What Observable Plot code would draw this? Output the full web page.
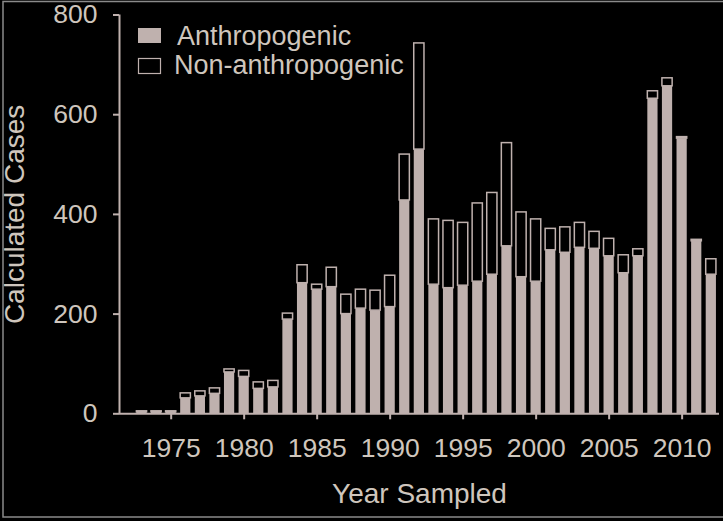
<!DOCTYPE html>
<html>
<head>
<meta charset="utf-8">
<script src="https://cdn.jsdelivr.net/npm/d3@7"></script>
<script src="https://cdn.jsdelivr.net/npm/@observablehq/plot@0.6"></script>
<style>
  html, body { margin: 0; padding: 0; background: #000; }
  #chart { width: 723px; height: 521px; overflow: hidden; }
</style>
</head>
<body>
<div id="chart"></div>
<script>
const years = d3.range(1973, 2013);
const anthro = [3, 3, 3, 31, 35, 40, 83, 74, 50, 53, 189, 262, 249, 254, 200, 211, 207, 214, 428, 530,
  259, 252, 257, 265, 279, 336, 274, 265, 328, 323, 333, 331, 316, 282, 316, 632, 657, 552, 346, 279];
const nonAnthro = [2, 2, 2, 10, 10, 11, 6, 12, 13, 13, 12, 36, 10, 39, 39, 38, 40, 63, 92, 213,
  131, 135, 126, 157, 164, 207, 130, 125, 43, 51, 50, 34, 35, 36, 14, 15, 16, 3, 3, 31];
const xTicks = [1975, 1980, 1985, 1990, 1995, 2000, 2005, 2010];
const yTicks = [0, 200, 400, 600, 800];
const xDomain = [1971.46, 2012.56];
const seriesNames = ["Anthropogenic", "Non-anthropogenic"];

const barColor = "#bfb1ae";
const textColor = "#cfc6bd";
const font = "'Liberation Sans', Arial, sans-serif";

const rows = years.map((yr, i) => ({year: yr, a: anthro[i], n: nonAnthro[i]}));

const chart = Plot.plot({
  width: 723,
  height: 521,
  marginLeft: 119,
  marginRight: 4,
  marginTop: 14.5,
  marginBottom: 107.7,
  style: {background: "#000", color: textColor, fontFamily: font, fontSize: "26px"},
  x: {type: "linear", domain: xDomain},
  y: {domain: [0, 800]},
  marks: [
    Plot.rectY(rows, {x1: d => d.year - 0.35, x2: d => d.year + 0.35, y1: 0, y2: "a", fill: barColor}),
    Plot.rectY(rows, {x1: d => d.year - 0.35, x2: d => d.year + 0.35, y1: "a", y2: d => d.a + d.n,
      fill: "#000", stroke: barColor, strokeWidth: 1.5}),
    Plot.ruleX([xDomain[0]], {y1: yTicks[0], y2: yTicks[yTicks.length - 1], stroke: barColor, strokeWidth: 2}),
    Plot.ruleY([0], {stroke: barColor, strokeWidth: 2}),
    Plot.axisY({ticks: yTicks, tickSize: 6, tickPadding: 16, label: null, stroke: barColor, strokeWidth: 2,
      fill: textColor, fontSize: 26.5}),
    Plot.axisX({ticks: xTicks, tickFormat: d => String(d), tickSize: 6, tickPadding: 18, label: null,
      stroke: barColor, strokeWidth: 2, fill: textColor, fontSize: 26.5}),
    Plot.text(["Calculated Cases"], {frameAnchor: "left", rotate: -90, dx: -104.5, textAnchor: "middle",
      fontSize: 28, fill: textColor}),
    Plot.text(["Year Sampled"], {frameAnchor: "bottom", dy: 89, textAnchor: "middle", fontSize: 28, fill: textColor})
  ]
});

const svg = d3.select(chart);
// frame border
svg.append("rect").attr("x", 3).attr("y", 1.5).attr("width", 730).attr("height", 515.5)
  .attr("fill", "none").attr("stroke", "#8a8a8a").attr("stroke-width", 1.5);
// legend
const lg = svg.append("g").attr("font-family", font).attr("font-size", 27).attr("fill", textColor)
  .attr("text-anchor", "start");
lg.append("rect").attr("x", 138).attr("y", 28).attr("width", 23).attr("height", 15).attr("fill", barColor);
lg.append("text").attr("x", 177).attr("y", 45).attr("text-anchor", "start").text(seriesNames[0]);
lg.append("rect").attr("x", 138.5).attr("y", 58.5).attr("width", 22).attr("height", 15)
  .attr("fill", "#000").attr("stroke", barColor).attr("stroke-width", 1.2);
lg.append("text").attr("x", 174).attr("y", 74).attr("text-anchor", "start").text(seriesNames[1]);

document.getElementById("chart").appendChild(chart);
</script>
</body>
</html>
